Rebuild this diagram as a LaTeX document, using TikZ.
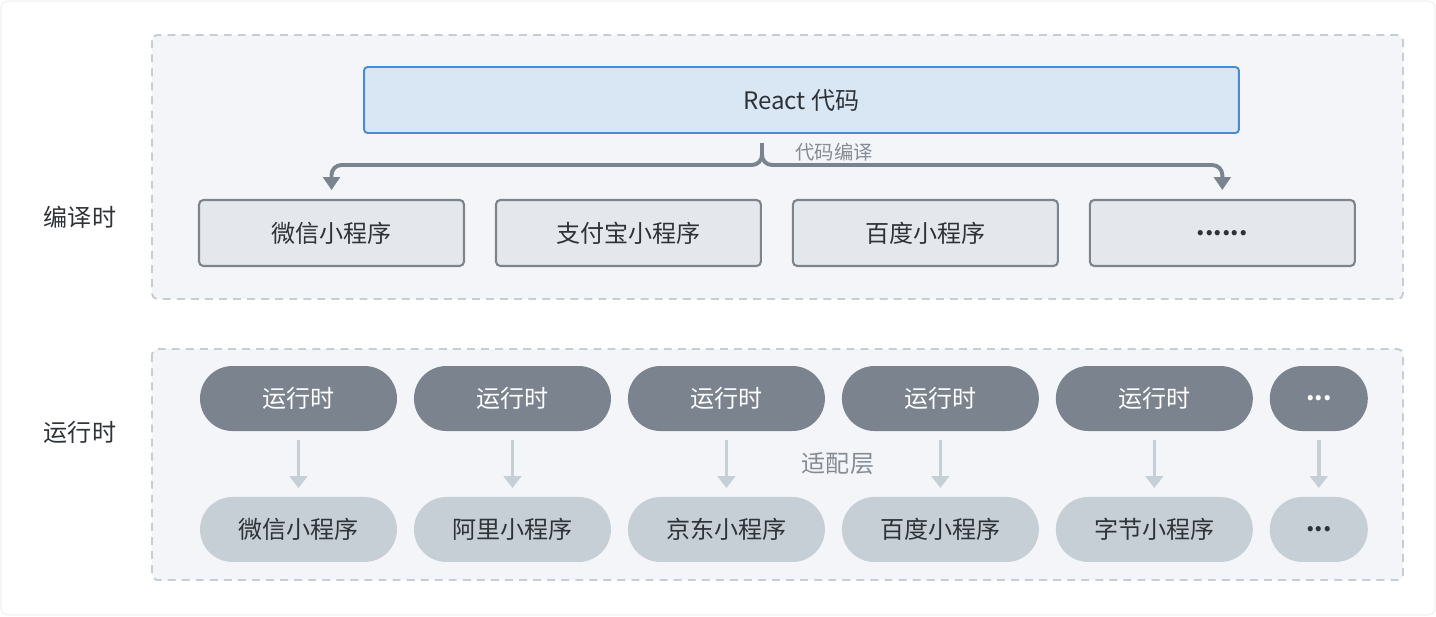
\documentclass[tikz,border=0pt]{standalone}
\usepackage{fontspec}
\setmainfont{Noto Sans CJK SC}
\usetikzlibrary{arrows.meta}
\usetikzlibrary{positioning}
\definecolor{panelfill}{HTML}{F3F5F8}
\definecolor{panelline}{HTML}{C6CDD4}
\definecolor{reactfill}{HTML}{D9E6F4}
\definecolor{reactline}{HTML}{4A8AD8}
\definecolor{boxfill}{HTML}{E4E7EB}
\definecolor{boxline}{HTML}{7C848D}
\definecolor{rtfill}{HTML}{7A838E}
\definecolor{mpfill}{HTML}{C6CED6}
\definecolor{textdark}{HTML}{2E3338}
\definecolor{textgray}{HTML}{858C94}
\newcommand\bigtxt{\fontsize{13.7}{16}\selectfont}
\newcommand\smalltxt{\fontsize{11}{13}\selectfont}
\tikzset{
    panel/.style={
           draw=panelline, fill=panelfill,
           line width=1.1pt,
           dash pattern=on 4.5pt off 3.5pt,
           rounded corners=3pt,
           },
    reactbox/.style={
           rectangle,
           rounded corners=2pt,
           draw=reactline, fill=reactfill, line width=1.1pt,
           minimum width=17.5cm, minimum height=1.32cm,
           outer sep=0pt,
           font=\bigtxt, text=textdark,
           },
    platbox/.style={
           rectangle,
           rounded corners=2.5pt,
           draw=boxline, fill=boxfill, line width=1.2pt,
           minimum width=5.3cm, minimum height=1.32cm,
           outer sep=0pt,
           font=\bigtxt, text=textdark,
           },
    rtpill/.style={
           rectangle,
           rounded corners=0.65cm,
           fill=rtfill,
           minimum width=3.94cm, minimum height=1.3cm,
           outer sep=0pt,
           font=\bigtxt, text=white,
           },
    mppill/.style={
           rtpill, fill=mpfill, text=textdark,
           },
    sidelabel/.style={font=\bigtxt, text=textdark},
    graylabel/.style={text=textgray},
    compile/.style={
           draw=rtfill, line width=2.2pt,
           rounded corners=0.2cm,
           -{Triangle[width=9.5pt,length=7.4pt]},
           shorten >=0.2cm,
           },
    adapt/.style={
           draw=mpfill, line width=2pt,
           -{Triangle[width=10pt,length=6.8pt]},
           shorten >=0.18cm, shorten <=0.18cm,
           },
}

\begin{document}
\begin{tikzpicture}[x=0.02cm,y=-0.02cm]

 \useasboundingbox (0,0) rectangle (1436,616);
 \draw[black!6, line width=0.6pt, rounded corners=4pt] (1,1) rectangle (1435,615);

 % panels
 \draw[panel] (152,35) rectangle (1403,299);
 \draw[panel] (152,349) rectangle (1403,580);

 \node[sidelabel] (compiletime) at (80,217) {编译时};
 \node[sidelabel] (runtime) at (80,432) {运行时};

 % compile time
 \node[reactbox] (react) at (801.5,100) {React 代码};

 \node[platbox] (wx) at (331.5,233) {微信小程序};
 \node[platbox, right=0.64cm of wx] (zfb) {支付宝小程序};
 \node[platbox, right=0.64cm of zfb] (bd) {百度小程序};
 \node[platbox, right=0.64cm of bd] (etc) {\textbf{......}};

 \coordinate (tip) at (762,143);
 \coordinate (bar) at (762,165);
 \draw[compile] (tip) |- (wx.north |- bar) -- (wx.north);
 \draw[compile] (tip) |- (etc.north |- bar) -- (etc.north);
 \node[graylabel, font=\smalltxt] (compilelbl) at (834,152) {代码编译};

 % run time
 \node[rtpill] (rtA) at (298.5,398.5) {运行时};
 \node[rtpill, right=0.34cm of rtA] (rtB) {运行时};
 \node[rtpill, right=0.34cm of rtB] (rtC) {运行时};
 \node[rtpill, right=0.34cm of rtC] (rtD) {运行时};
 \node[rtpill, right=0.34cm of rtD] (rtE) {运行时};
 \node[rtpill, right=0.34cm of rtE, minimum width=1.96cm] (rtF) {\textbf{...}};

 \node[mppill, below=1.32cm of rtA] (mpA) {微信小程序};
 \node[mppill, below=1.32cm of rtB] (mpB) {阿里小程序};
 \node[mppill, below=1.32cm of rtC] (mpC) {京东小程序};
 \node[mppill, below=1.32cm of rtD] (mpD) {百度小程序};
 \node[mppill, below=1.32cm of rtE] (mpE) {字节小程序};
 \node[mppill, below=1.32cm of rtF, minimum width=1.96cm] (mpF) {\textbf{...}};

 \foreach \n in {A,B,C,D,E,F}
   \draw[adapt] (rt\n) -- (mp\n);

 \node[graylabel, font=\bigtxt] (adaptlbl) at (838,464) {适配层};

\end{tikzpicture}
\end{document}
